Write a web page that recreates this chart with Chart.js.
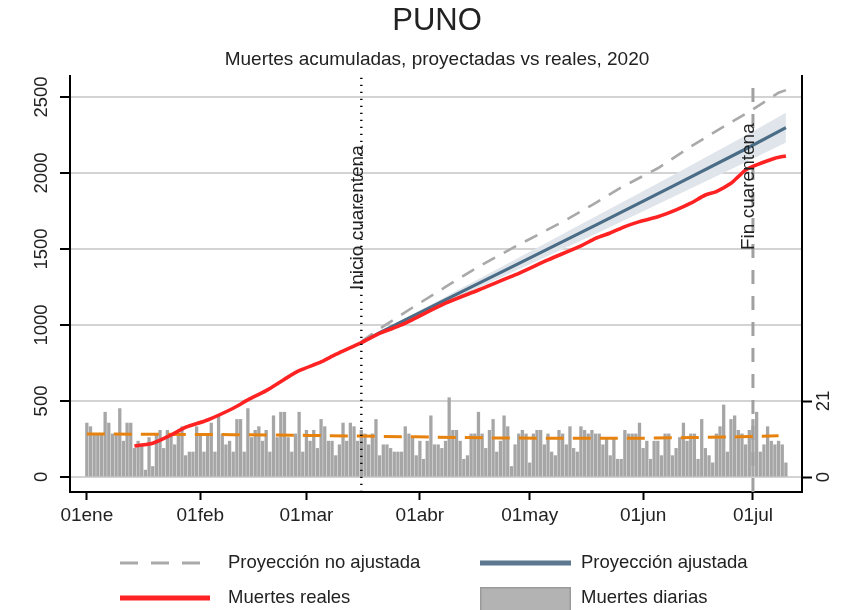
<!DOCTYPE html>
<html><head><meta charset="utf-8">
<script src="https://cdn.jsdelivr.net/npm/chart.js@4.4.0/dist/chart.umd.min.js"></script>
<style>html,body{margin:0;padding:0;background:#fff;}#wrap{width:849px;height:610px;position:relative;}</style>
</head><body><div id="wrap"><canvas id="c"></canvas></div>
<script>
const FONT = "'Liberation Sans', Arial, Helvetica, sans-serif";

// Axis ticks
const tickDays = [0, 31, 60, 91, 121, 152, 182];
const tickLabels = ['01ene', '01feb', '01mar', '01abr', '01may', '01jun', '01jul'];
const leftTicks = [0, 500, 1000, 1500, 2000, 2500];
const rightTicks = [0, 21];

// Daily deaths, day 0 = 01ene
const dailyDeaths = [
 15,14,12,12,12,18,15,12,12,19,10,15,15,8,10,9,2,11,3,12,
 13,8,13,12,9,12,14,6,7,7,14,12,7,12,15,7,17,12,9,10,
 7,16,16,7,19,11,13,14,10,13,7,17,11,18,18,11,7,12,18,7,
 13,10,13,8,16,14,10,10,6,9,
 15,10,15,14,10,13,12,9,12,16,6,9,9,8,7,7,7,14,12,11,
 6,10,5,10,17,9,9,8,10,22,13,13,10,5,6,12,12,18,12,8,
 13,16,7,10,17,14,3,9,12,13,12,4,12,13,13,9,12,7,6,13,
 12,9,14,8,7,14,13,12,13,12,
 12,
 9,11,6,11,5,5,13,12,12,12,15,8,10,5,10,10,6,12,12,6,
 8,11,15,10,12,12,5,16,8,6,4,12,14,20,7,16,17,13,12,9,
 13,16,18,7,9,14,10,9,10,9,4
];

// Accumulated real deaths
const realDays   = [13,18,23,27,33,40,44,49,54,58,64,68,75,80,86,89,98,107,117,126,135,139,143,147,151,156,161,165,169,172,176,178,180,183,188,191];
const realDeaths = [204,222,276,327,375,452,507,568,643,699,757,806,884,945,1000,1035,1143,1230,1329,1428,1520,1570,1605,1647,1680,1712,1757,1801,1855,1877,1932,1976,2020,2053,2097,2112];

// Adjusted projection and its band
const projDays     = [75,80,100,120,140,160,180,191];
const projAdjusted = [884,950,1190,1428,1668,1912,2158,2298];
const bandUpper    = [884,952,1212,1468,1726,1984,2246,2396];
const bandLower    = [884,948,1168,1388,1610,1840,2070,2200];

// Unadjusted projection
const rawDays = [75,80,89,98,107,117,124,131,138,146,156,165,174,181,189,191];
const projRaw = [890,975,1115,1250,1384,1515,1603,1691,1789,1905,2031,2173,2305,2403,2528,2545];

// Mean of daily deaths
const meanDays  = [0,20,40,60,75,90,110,130,150,165,178,189];
const meanDaily = [11.9,11.8,11.7,11.5,11.3,11.1,10.8,10.7,10.7,10.9,11.1,11.4];

const quarantineStart = 75;
const quarantineEnd = 182;

const X_MIN = -4.6, X_MAX = 195.4;
const Y_MIN = -99, Y_MAX = 2638;
const Y2_MIN = -4.14, Y2_MAX = 110.8;

const pts = (xs, ys) => xs.map((x, i) => ({x: x, y: ys[i]}));

const annot = {
  id: 'annot',
  afterDatasetsDraw(chart) {
    const {ctx, scales: {x, y}} = chart;
    ctx.save();
    ctx.font = '19px ' + FONT;
    ctx.fillStyle = '#222';
    ctx.textAlign = 'left';
    ctx.textBaseline = 'alphabetic';
    [[quarantineStart, 1230, 'Inicio cuarentena'], [quarantineEnd, 1493, 'Fin cuarentena']].forEach(([d, v, t]) => {
      ctx.save();
      ctx.translate(x.getPixelForValue(d) + 1.5, y.getPixelForValue(v));
      ctx.rotate(-Math.PI / 2);
      ctx.fillText(t, 0, 0);
      ctx.restore();
    });
    ctx.restore();
  },
  afterDraw(chart) {
    const ctx = chart.ctx;
    const ds = chart.data.datasets;
    ctx.save();
    ctx.font = '18.5px ' + FONT;
    ctx.fillStyle = '#222';
    ctx.textBaseline = 'middle';
    ctx.textAlign = 'left';
    const line = (x1, x2, yy, color, w, dash) => {
      ctx.save(); ctx.beginPath(); ctx.strokeStyle = color; ctx.lineWidth = w; ctx.setLineDash(dash || []);
      ctx.moveTo(x1, yy); ctx.lineTo(x2, yy); ctx.stroke(); ctx.restore();
    };
    const r1 = 563, r2 = 598;
    line(120, 210, r1, ds[2].borderColor, 3, [18, 13]);
    ctx.fillText(ds[2].label, 228, r1);
    line(480, 571, r1, '#5b7890', 5);
    ctx.fillText(ds[1].label, 581, r1);
    line(120, 210, r2, ds[0].borderColor, 5);
    ctx.fillText(ds[0].label, 228, r2);
    ctx.fillStyle = '#b3b3b3';
    ctx.fillRect(480, 587, 91, 30);
    ctx.strokeStyle = '#9a9a9a'; ctx.lineWidth = 1.5;
    ctx.strokeRect(480.75, 587.75, 89.5, 30);
    ctx.fillStyle = '#222';
    ctx.fillText(ds[6].label, 581, r2);
    ctx.restore();
  }
};

new Chart(document.getElementById('c'), {
  type: 'line',
  data: {
    datasets: [
      {label: 'Muertes reales', data: pts(realDays, realDeaths), borderColor: '#ff2222', borderWidth: 3.6, pointRadius: 0, tension: 0.25, yAxisID: 'y', order: 1},
      {label: 'Proyección ajustada', data: pts(projDays, projAdjusted), borderColor: '#4b6c86', borderWidth: 3.2, pointRadius: 0, yAxisID: 'y', order: 2},
      {label: 'Proyección no ajustada', data: pts(rawDays, projRaw), borderColor: '#a9a9a9', borderWidth: 2.6, borderDash: [14, 10], pointRadius: 0, yAxisID: 'y', order: 3},
      {label: 'IC superior', data: pts(projDays, bandUpper), borderWidth: 0, borderColor: 'rgba(0,0,0,0)', backgroundColor: '#dfe5ea', fill: '+1', pointRadius: 0, yAxisID: 'y', order: 4},
      {label: 'IC inferior', data: pts(projDays, bandLower), borderWidth: 0, borderColor: 'rgba(0,0,0,0)', fill: false, pointRadius: 0, yAxisID: 'y', order: 5},
      {label: 'Promedio diario', data: pts(meanDays, meanDaily), borderColor: '#e8820e', borderWidth: 3, borderDash: [18, 9], pointRadius: 0, yAxisID: 'y2', order: 6},
      {type: 'bar', label: 'Muertes diarias', data: dailyDeaths.map((v, i) => ({x: i, y: v})), backgroundColor: '#a6a6a6', borderWidth: 0, barPercentage: 0.9, categoryPercentage: 1, yAxisID: 'y2', order: 8},
      {label: 'Inicio cuarentena', data: [{x: quarantineStart, y: Y_MIN}, {x: quarantineStart, y: Y_MAX}], borderColor: '#000', borderWidth: 2.4, borderDash: [1.3, 5.7], pointRadius: 0, yAxisID: 'y', order: 0},
      {label: 'Fin cuarentena', data: [{x: quarantineEnd, y: Y_MIN}, {x: quarantineEnd, y: Y_MAX}], borderColor: '#a0a0a0', borderWidth: 3, borderDash: [14, 12], pointRadius: 0, yAxisID: 'y', order: 7}
    ]
  },
  options: {
    responsive: true,
    maintainAspectRatio: false,
    animation: false,
    events: [],
    layout: {padding: {left: 25, right: 0, top: 0, bottom: 0}},
    plugins: {
      legend: {display: false},
      tooltip: {enabled: false},
      title: {display: true, text: 'PUNO', color: '#222', font: {family: FONT, size: 31, weight: 'normal'}, padding: {top: 3, bottom: 0}},
      subtitle: {display: true, text: 'Muertes acumuladas, proyectadas vs reales, 2020', color: '#222', font: {family: FONT, size: 19, weight: 'normal'}, padding: {top: 8.5, bottom: 4.5}}
    },
    scales: {
      x: {
        type: 'linear', min: X_MIN, max: X_MAX, offset: false,
        afterBuildTicks: s => { s.ticks = tickDays.map(v => ({value: v})); },
        afterFit: s => { s.height = 118; },
        ticks: {autoSkip: false, maxRotation: 0, minRotation: 0, padding: 4, color: '#222', font: {family: FONT, size: 19},
          callback: (v, i) => tickLabels[i]},
        grid: {display: true, drawOnChartArea: false, drawTicks: true, tickLength: 8, color: '#000', tickColor: '#000', tickWidth: 2, offset: false},
        border: {display: true, color: '#000', width: 2}
      },
      y: {
        type: 'linear', position: 'left', min: Y_MIN, max: Y_MAX,
        afterBuildTicks: s => { s.ticks = leftTicks.map(v => ({value: v})); },
        afterFit: s => { s.width = 45; },
        ticks: {minRotation: 90, maxRotation: 90, crossAlign: 'center', padding: -2, color: '#222', font: {family: FONT, size: 18.5},
          callback: v => String(v)},
        grid: {color: '#d3d3d3', lineWidth: 2, tickLength: 10, tickColor: '#000', tickWidth: 2},
        border: {display: true, color: '#000', width: 2}
      },
      y2: {
        type: 'linear', position: 'right', min: Y2_MIN, max: Y2_MAX,
        afterBuildTicks: s => { s.ticks = rightTicks.map(v => ({value: v})); },
        afterFit: s => { s.width = 47; },
        ticks: {minRotation: 90, maxRotation: 90, crossAlign: 'center', padding: 2, color: '#222', font: {family: FONT, size: 18.5},
          callback: v => String(v)},
        grid: {drawOnChartArea: false, tickLength: 10, color: '#000', tickColor: '#000', tickWidth: 2},
        border: {display: true, color: '#000', width: 2}
      }
    }
  },
  plugins: [annot]
});
</script></body></html>
